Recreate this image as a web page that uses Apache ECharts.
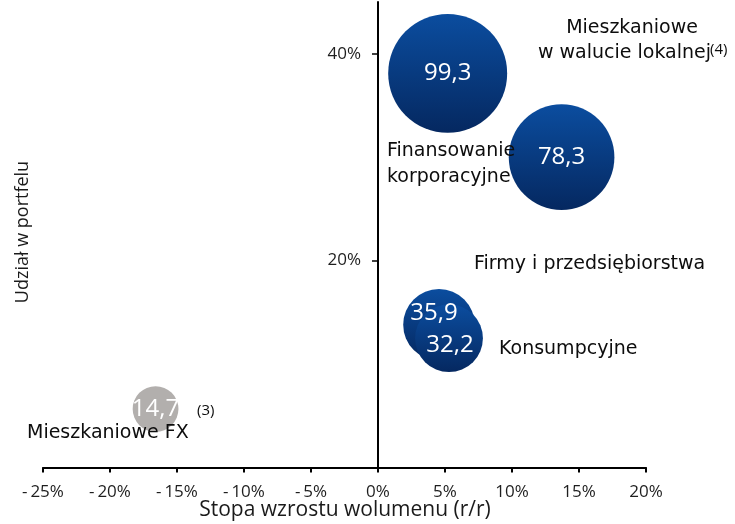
<!DOCTYPE html>
<html>
<head>
<meta charset="utf-8">
<script src="https://cdn.jsdelivr.net/npm/echarts@6/dist/echarts.min.js"></script>
<style>
  html, body { margin: 0; padding: 0; background: #fff; }
  #chart { width: 735px; height: 524px; }
</style>
</head>
<body>
<div id="chart"></div>
<script>
// Loan portfolio segments: volume growth (x, %), share of portfolio (y, %), volume (bubble size)
const segments = ['Mieszkaniowe w walucie lokalnej', 'Finansowanie korporacyjne', 'Firmy i przedsiębiorstwa', 'Konsumpcyjne', 'Mieszkaniowe FX'];
const growth = [5.2, 13.7, 4.55, 5.3, -16.6];
const share = [38.1, 30.0, 13.8, 12.5, 5.65];
const volume = [99.3, 78.3, 35.9, 32.2, 14.7];
const xTicks = [-25, -20, -15, -10, -5, 0, 5, 10, 15, 20];
const yTicks = [20, 40];

const FONT = '"Open Sans", "Noto Sans", sans-serif';
const NOTE_FONT = '"DejaVu Sans", "Open Sans", sans-serif';
const blueFill = new echarts.graphic.LinearGradient(0, 0, 0, 1, [
  { offset: 0, color: '#0b4d9f' },
  { offset: 1, color: '#052860' }
]);
const grayFill = '#b2afad';

// bubble diameter proportional to sqrt(volume): area scales with volume
const sizeOf = v => Math.sqrt(v) * 11.94;
const fmt = v => v.toFixed(1).replace('.', ',');
const pct = v => (v < 0 ? '-\u2009' + Math.abs(v) : v) + '%';

// label nudges for the two overlapping bubbles
const labelOffset = { 2: [-5, -12], 3: [1, 7] };

const data = segments.map((name, i) => {
  const item = {
    name: name,
    value: [growth[i], share[i], volume[i]],
    itemStyle: { color: i === 4 ? grayFill : blueFill }
  };
  if (labelOffset[i]) item.label = { offset: labelOffset[i] };
  return item;
});

const chart = echarts.init(document.getElementById('chart'), null, { renderer: 'canvas' });

const note = (text, x, y, extra) => ({
  type: 'text', x: x, y: y, z: 10,
  style: Object.assign({ text: text, fontFamily: NOTE_FONT, fontSize: 19, fill: '#0d0d0d', textAlign: 'left', textVerticalAlign: 'middle' }, extra || {})
});

const notes = [
  note('Mieszkaniowe', 632, 28, { textAlign: 'center' }),
  note('w walucie lokalnej', 538, 53),
  note('(4)', 710, 50, { fontFamily: FONT, fontSize: 15 }),
  note('Finansowanie', 387, 151),
  note('korporacyjne', 387, 177),
  note('Firmy i przedsiębiorstwa', 474, 264),
  note('Konsumpcyjne', 499, 349),
  note('Mieszkaniowe FX', 27, 433),
  note('(3)', 197, 411, { fontFamily: FONT, fontSize: 15 }),
  // axis titles
  note('Stopa wzrostu wolumenu (r/r)', 345, 510, { fontFamily: FONT, fontSize: 21, fill: '#1a1a1a', textAlign: 'center' }),
  {
    type: 'text', x: 23, y: 232, rotation: Math.PI / 2,
    style: { text: 'Udział w portfelu', fontFamily: FONT, fontSize: 18, fill: '#1a1a1a', textAlign: 'center', textVerticalAlign: 'middle' }
  }
];

chart.setOption({
  animation: false,
  grid: { left: 43, right: 89, top: 2, bottom: 56.5, outerBoundsMode: 'none', containLabel: false },
  xAxis: {
    type: 'value',
    min: -25, max: 20, interval: 5,
    axisLine: { onZero: false, lineStyle: { color: '#000', width: 2 } },
    axisTick: { show: true, length: 5, lineStyle: { color: '#000', width: 2 } },
    axisLabel: { formatter: pct, fontFamily: FONT, fontSize: 17, color: '#1e1e1e', margin: 16, customValues: xTicks },
    splitLine: { show: false }
  },
  yAxis: {
    type: 'value',
    min: 0, max: 45,
    axisLine: { onZero: true, lineStyle: { color: '#000', width: 2 } },
    axisTick: { show: true, length: 6, customValues: yTicks, lineStyle: { color: '#000', width: 1.5 } },
    axisLabel: { show: false },
    splitLine: { show: false }
  },
  series: [{
    type: 'scatter',
    data: data,
    symbolSize: val => sizeOf(val[2]),
    itemStyle: { opacity: 1 },
    label: {
      show: true,
      position: 'inside',
      formatter: p => fmt(p.value[2]),
      color: '#fff',
      fontFamily: FONT,
      fontSize: 24
    },
    emphasis: { disabled: true }
  }],
  graphic: notes
});

// y tick labels sit beside the zero-crossing vertical axis
const yLabels = yTicks.map(v => {
  const p = chart.convertToPixel({ gridIndex: 0 }, [0, v]);
  return {
    type: 'text', x: p[0] - 17, y: p[1],
    style: { text: pct(v), fontFamily: FONT, fontSize: 17, fill: '#1e1e1e', textAlign: 'right', textVerticalAlign: 'middle' }
  };
});
chart.setOption({ graphic: notes.concat(yLabels) }, { replaceMerge: ['graphic'] });
</script>
</body>
</html>
